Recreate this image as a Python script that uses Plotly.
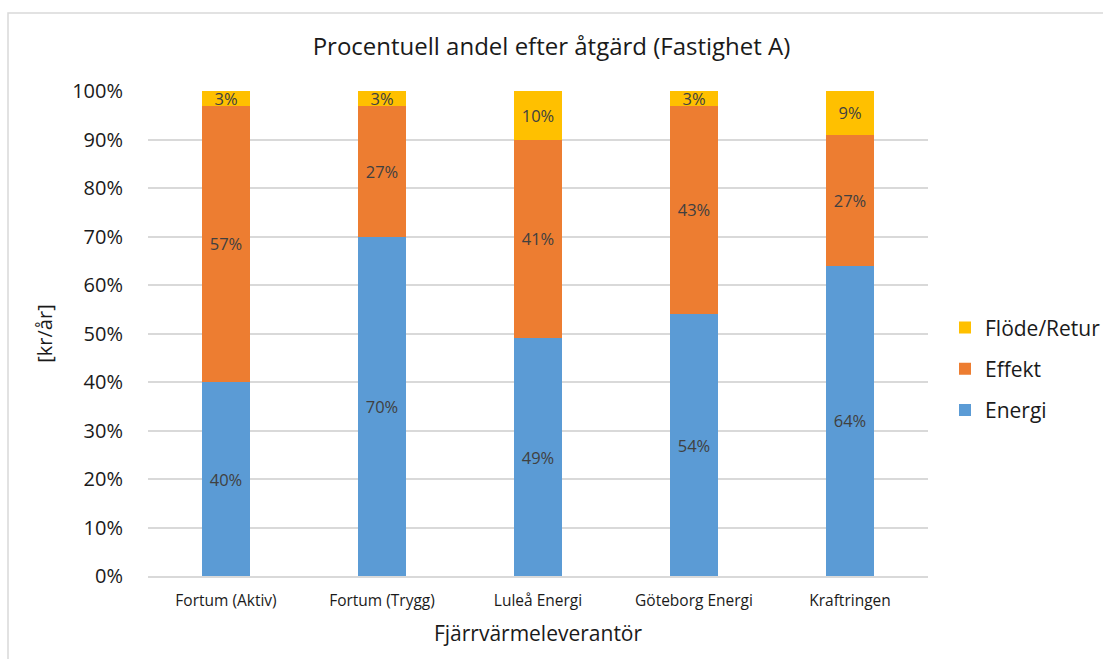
import plotly.graph_objects as go

suppliers = ["Fortum (Aktiv)", "Fortum (Trygg)", "Luleå Energi", "Göteborg Energi", "Kraftringen"]
energi = [40, 70, 49, 54, 64]
effekt = [57, 27, 41, 43, 27]
flode_retur = [3, 3, 10, 3, 9]
y_ticks = [0, 10, 20, 30, 40, 50, 60, 70, 80, 90, 100]

FONT = "Open Sans"
TEXT = "#404040"
DARK = "#1a1a1a"
W, H = 1103, 659

fig = go.Figure()
for rank, (name, vals, color) in enumerate([
    ("Energi", energi, "#5B9BD5"),
    ("Effekt", effekt, "#ED7D31"),
    ("Flöde/Retur", flode_retur, "#FFC000"),
]):
    fig.add_trace(go.Bar(
        x=suppliers, y=vals, name=name, legendgroup=name, legendrank=3 - rank,
        marker=dict(color=color, line=dict(width=0)),
        text=[f"{v}%" for v in vals], textposition="inside",
        insidetextanchor="middle", textangle=0,
        textfont=dict(family=FONT, size=16.5, color=TEXT),
        hoverinfo="x+y+name",
    ))

# outer chart frame
l, r, t, b = 148, 175, 91, 83
pw, ph = W - l - r, H - t - b
def px(xp):
    return (xp - l) / pw
def py(yp):
    return (H - b - yp) / ph

fig.update_layout(
    width=W, height=H,
    margin=dict(l=l, r=r, t=t, b=b, autoexpand=False),
    barmode="stack", bargap=0.686,
    paper_bgcolor="white", plot_bgcolor="white",
    font=dict(family=FONT, color=TEXT),
    uniformtext=dict(minsize=16.5, mode="show"),
    title=dict(text="Procentuell andel efter åtgärd (Fastighet A)",
               x=0.5, xanchor="center", y=1 - 47 / H, yanchor="middle",
               font=dict(family=FONT, size=24, color=DARK)),
    xaxis=dict(showgrid=False, showline=True, linecolor="#D9D9D9", linewidth=1.5,
               tickfont=dict(family=FONT, size=15.5, color=DARK), ticks="",
               ticklabelstandoff=10,
               title=dict(text="Fjärrvärmeleverantör", standoff=16,
                          font=dict(family=FONT, size=21, color=DARK))),
    yaxis=dict(range=[0, 100], tickvals=y_ticks, ticktext=[f"{v}%" for v in y_ticks],
               showgrid=True, gridcolor="#D9D9D9", gridwidth=1.5, zeroline=False,
               showline=False, ticks="", ticklabelstandoff=24,
               tickfont=dict(family=FONT, size=20, color=DARK),
               title=dict(text="[kr/år]", standoff=14,
                          font=dict(family=FONT, size=20, color=DARK))),
    legend=dict(traceorder="grouped", xref="container", yref="container",
                x=945 / W, y=(H - 327) / H + 0.03, yanchor="top", xanchor="left",
                font=dict(family=FONT, size=21, color=DARK),
                itemwidth=30, tracegroupgap=11, bgcolor="rgba(0,0,0,0)"),
    shapes=[dict(type="rect", xref="paper", yref="paper",
                 x0=px(8), x1=px(1120), y0=py(680), y1=py(13),
                 line=dict(color="#D9D9D9", width=1.5), layer="below")],
)

fig.write_html("out.html")
